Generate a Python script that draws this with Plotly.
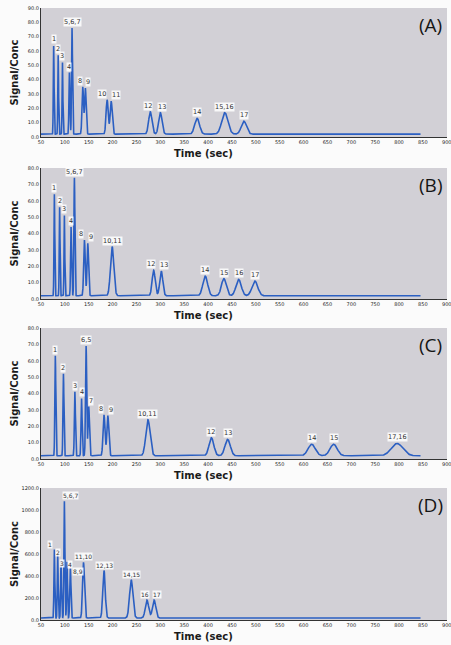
import numpy as np
import plotly.graph_objects as go

W, H = 451, 645

# ---- Data ----
# Panel A
a_labels = ["1", "2", "3", "4", "5,6,7", "8", "9", "10", "11", "12", "13", "14", "15,16", "17"]
a_times = [76.6, 86, 95, 109.5, 115, 137.5, 143, 188.5, 197, 279, 300, 377, 435, 475]
a_heights = [64, 57, 52, 45, 76, 35, 34, 26, 25, 17.5, 17, 13, 17, 11]
a_widths = [0.8, 0.8, 0.8, 1.0, 1.0, 1.6, 1.6, 2.2, 2.2, 3.5, 3.5, 5.0, 6.5, 5.5]

# Panel B
b_labels = ["1", "2", "3", "4", "5,6,7", "8", "9", "10,11", "12", "13", "14", "15", "16", "17"]
b_times = [78, 89, 99, 113, 120, 141, 148, 199, 286, 302, 394, 433, 464, 498]
b_heights = [64, 56, 51, 44, 74, 36, 34, 32, 17.5, 17, 14, 12.5, 12, 11]
b_widths = [0.8, 0.8, 0.8, 1.0, 1.0, 1.6, 1.6, 3.5, 3.2, 3.2, 5.0, 5.0, 5.5, 6.0]

# Panel C
c_labels = ["1", "2", "3", "4", "6,5", "7", "8", "9", "10,11", "12", "13", "14", "15", "17,16"]
c_times = [80, 97, 121, 135, 144.5, 150, 182, 190, 274, 407, 441, 617, 663, 796]
c_heights = [63, 52, 41, 37, 69, 32, 27, 26.5, 24, 13, 12, 9, 9, 9.5]
c_widths = [1.0, 1.0, 1.1, 1.1, 1.2, 1.5, 2.0, 2.0, 4.5, 5.0, 5.5, 7.5, 7.5, 12.0]

# Panel D
d_labels = ["1", "2", "3", "4", "5,6,7", "8,9", "11,10", "12,13", "14,15", "16", "17"]
d_times = [78, 85, 92, 104.5, 99, 111.5, 139, 182, 239, 272, 287]
d_heights = [640, 590, 540, 530, 1080, 470, 525, 450, 365, 180, 180]
d_widths = [0.9, 0.9, 0.9, 0.9, 1.0, 1.2, 2.0, 2.5, 3.5, 3.5, 3.5]

baselines = [2.0, 2.0, 2.0, 18.0]
y_ranges = [[0, 90], [0, 80], [0, 80], [0, 1200]]
y_dticks = [10, 10, 10, 200]
panel_names = ["(A)", "(B)", "(C)", "(D)"]
x_ticks = list(range(50, 901, 50))
t_start, t_end = 50, 845

# label nudges in pixels to avoid overlaps (style, not data)
label_shift = [
    {"8": -3, "9": 3, "10": -5, "11": 5, "12": -2, "13": 2},
    {"8": -3, "9": 3, "12": -3, "13": 3},
    {"8": -3, "9": 3, "7": 2},
    {"1": -4, "2": 0, "3": 1, "4": 3, "5,6,7": 6, "8,9": 8, "16": -2, "17": 3},
]
label_vshift = [
    {},
    {},
    {},
    {"2": -3, "3": -8, "4": -8, "8,9": -9},
]

panels = [
    (a_labels, a_times, a_heights, a_widths),
    (b_labels, b_times, b_heights, b_widths),
    (c_labels, c_times, c_heights, c_widths),
    (d_labels, d_times, d_heights, d_widths),
]

# plot area pixel boxes (top, bottom)
boxes = [(8, 137), (168, 299), (328, 459), (488, 620)]
x_left, x_right = 41, 447

fig = go.Figure()
t = np.arange(t_start, t_end + 0.01, 0.25)

LINE = "#2b5fc2"
for i, (labels, times, heights, widths) in enumerate(panels):
    n = i + 1
    xa = "x" if n == 1 else f"x{n}"
    ya = "y" if n == 1 else f"y{n}"
    base = baselines[i]
    sig = np.full_like(t, base)
    for tm, h, w in zip(times, heights, widths):
        sig = sig + (h - base) * np.exp(-0.5 * ((t - tm) / w) ** 2)
    fig.add_trace(go.Scatter(x=t, y=sig, mode="lines", xaxis=xa, yaxis=ya,
                             line=dict(color=LINE, width=1.6), showlegend=False,
                             hoverinfo="skip"))
    top, bot = boxes[i]
    dom_y = [1 - bot / H, 1 - top / H]
    xkey = "xaxis" if n == 1 else f"xaxis{n}"
    ykey = "yaxis" if n == 1 else f"yaxis{n}"
    fig.update_layout(**{
        xkey: dict(domain=[x_left / W, x_right / W], anchor=ya, range=[50, 900.5],
                   tickvals=x_ticks, ticktext=[str(v) for v in x_ticks],
                   tickfont=dict(size=5, color="#222", family="DejaVu Sans"),
                   ticklabeloverflow="allow", automargin=False,
                   showgrid=False, zeroline=False, showline=True, linecolor="#333",
                   linewidth=1, ticks="", mirror=False),
        ykey: dict(domain=dom_y, anchor=xa, range=y_ranges[i], dtick=y_dticks[i],
                   tick0=0, tickformat=".1f",
                   tickfont=dict(size=5, color="#222", family="DejaVu Sans"),
                   ticklabeloverflow="allow", automargin=False,
                   showgrid=False, zeroline=False, showline=True, linecolor="#333",
                   linewidth=1, ticks="", mirror=False),
    })
    # peak labels
    fsize = 6.5 if i < 3 else 6
    for lab, tm, h in zip(labels, times, heights):
        fig.add_annotation(x=tm, y=h, xref=xa, yref=ya, text=lab, showarrow=False,
                           yanchor="bottom", yshift=1 + label_vshift[i].get(lab, 0),
                           xshift=label_shift[i].get(lab, 0),
                           font=dict(size=fsize, color="#333", family="DejaVu Sans"),
                           bgcolor="rgba(255,255,255,0.85)", borderpad=0)
    # panel name
    fig.add_annotation(x=430 / W, y=1 - (top + 17) / H, xref="paper", yref="paper",
                       text=panel_names[i], showarrow=False,
                       font=dict(size=19, color="#151515", family="Open Sans"),
                       xanchor="center", yanchor="middle")
    # axis titles
    fig.add_annotation(x=203 / W, y=1 - (bot + 16) / H, xref="paper", yref="paper",
                       text="<b>Time (sec)</b>", showarrow=False,
                       font=dict(size=10, color="#1a1a1a", family="DejaVu Sans"),
                       xanchor="center", yanchor="middle")
    fig.add_annotation(x=14 / W, y=1 - ((top + bot) / 2) / H, xref="paper", yref="paper",
                       text="<b>Signal/Conc</b>", showarrow=False, textangle=-90,
                       font=dict(size=10, color="#1a1a1a", family="DejaVu Sans"),
                       xanchor="center", yanchor="middle")

# plot background rectangles (gray panel)
for top, bot in boxes:
    fig.add_shape(type="rect", xref="paper", yref="paper",
                  x0=x_left / W, x1=x_right / W, y0=1 - bot / H, y1=1 - top / H,
                  fillcolor="#d2d0d6", line=dict(width=0), layer="below")

fig.update_layout(width=W, height=H, margin=dict(l=0, r=0, t=0, b=0),
                  paper_bgcolor="#fbfbfb", plot_bgcolor="rgba(0,0,0,0)",
                  showlegend=False)

fig.write_html("out.html")
